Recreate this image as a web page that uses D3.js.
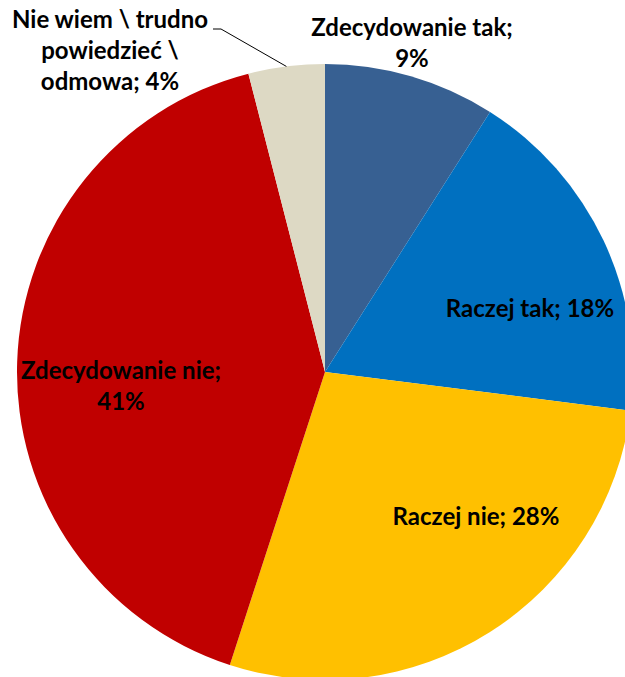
<!DOCTYPE html>
<html>
<head>
<meta charset="utf-8">
<script src="https://cdn.jsdelivr.net/npm/d3@7"></script>
<style>
  body { margin: 0; background: #fff; }
  text { font-family: Lato, "Open Sans", sans-serif; font-weight: bold; fill: #000; }
</style>
</head>
<body>
<div id="chart"></div>
<script>
// Chart data
const categories = ["Zdecydowanie tak", "Raczej tak", "Raczej nie", "Zdecydowanie nie", "Nie wiem \\ trudno powiedzieć \\ odmowa"];
const values = [9, 18, 28, 41, 4];
const colors = ["#376092", "#0070C0", "#FFC000", "#C00000", "#DDD9C4"];
// label text lines per slice
const labelLines = [
    ["Zdecydowanie tak;", "9%"],
    ["Raczej tak; 18%"],
    ["Raczej nie; 28%"],
    ["Zdecydowanie nie;", "41%"],
    ["Nie wiem \\ trudno", "powiedzieć \\", "odmowa; 4%"]
];

// Layout
const W = 625, H = 677;
const cx = 325, cy = 372, radius = 308;
const lineH = 31;
// label centre offsets from pie centre (first line baseline)
const labelPos = [
    [87, -336],
    [205, -55],
    [151, 153],
    [-204, 7],
    [-215, -344]
];

const svg = d3.select("#chart")
    .append("svg")
    .attr("width", W)
    .attr("height", H);

const g = svg.append("g")
    .attr("transform", `translate(${cx},${cy})`);

const pie = d3.pie().sort(null).value(d => d);
const arc = d3.arc().innerRadius(0).outerRadius(radius);
const arcs = pie(values);

g.selectAll("path.slice")
    .data(arcs)
    .enter()
    .append("path")
    .attr("class", "slice")
    .attr("d", arc)
    .attr("fill", (d, i) => colors[i]);

// Leader line for the small slice
const small = arcs[4];
const mid = (small.startAngle + small.endAngle) / 2;
const edge = [Math.sin(mid) * radius, -Math.cos(mid) * radius];
g.append("polyline")
    .attr("points", [[-112, -343], [-104, -343], [edge[0], edge[1]]].map(p => p.join(",")).join(" "))
    .attr("fill", "none")
    .attr("stroke", "#000")
    .attr("stroke-width", 1);

// Labels
labelLines.forEach((lines, i) => {
    const t = g.append("text")
        .attr("text-anchor", "middle")
        .style("font-size", "24px");
    lines.forEach((ln, j) => {
        t.append("tspan")
            .attr("x", labelPos[i][0])
            .attr("y", labelPos[i][1] + j * lineH)
            .text(ln);
    });
});
</script>
</body>
</html>
